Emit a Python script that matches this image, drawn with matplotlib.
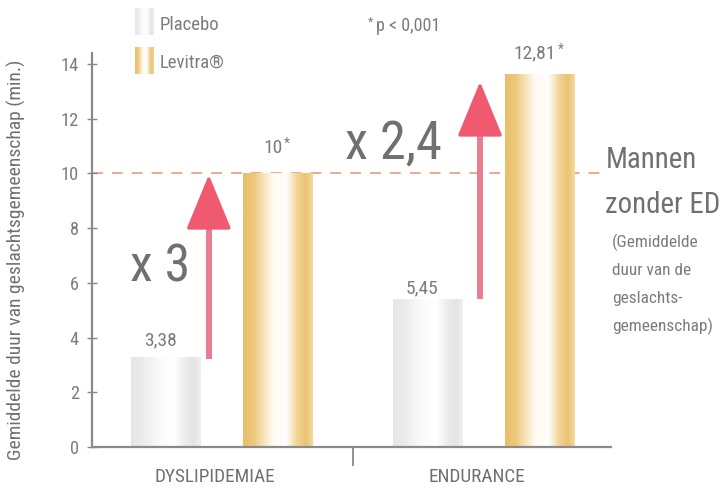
import numpy as np
import matplotlib
matplotlib.use("Agg")
import matplotlib.pyplot as plt
import matplotlib.font_manager as fm
from matplotlib.colors import LinearSegmentedColormap

# ---- choose a narrow font if one is installed ----
_ttf = fm.fontManager.ttflist
_names = {f.name for f in _ttf}
FAM, STRETCH = "Roboto", "normal"
for cand in ["Liberation Sans Narrow", "Roboto Condensed", "Open Sans Condensed",
             "Noto Sans Condensed", "DejaVu Sans Condensed"]:
    if cand in _names:
        FAM = cand
        break
else:
    for base in ["Noto Sans", "Open Sans", "DejaVu Sans", "Roboto"]:
        if any(f.name == base and f.stretch in ("condensed", "semi-condensed", "extra-condensed", 75, 87)
               for f in _ttf):
            FAM, STRETCH = base, "condensed"
            break
plt.rcParams['font.family'] = [FAM, 'DejaVu Sans']
plt.rcParams['font.stretch'] = STRETCH

categories = ["DYSLIPIDEMIAE", "ENDURANCE"]
series = ["Placebo", "Levitra\u00ae"]
placebo = [3.3, 5.4]
levitra = [10.0, 13.65]
placebo_labels = ["3,38", "5,45"]
levitra_labels = ["10", "12,81"]
factors = ["x 3", "x 2,4"]
arrow_from = [3.2, 5.4]
arrow_to = [9.95, 13.35]
yticks = [0, 2, 4, 6, 8, 10, 12, 14]
ref_value = 10

TXT = "#707070"
TXT2 = "#7c7c7c"
gold_cmap = LinearSegmentedColormap.from_list(
    "gold", [(0.0, "#e8bf68"), (0.15, "#edc87c"), (0.42, "#fffaf0"), (0.62, "#ffffff"),
             (0.78, "#f1d393"), (0.9, "#e9c372"), (1.0, "#f3da9f")])
grey_cmap = LinearSegmentedColormap.from_list(
    "grey", [(0.0, "#e6e6e6"), (0.15, "#ebebeb"), (0.42, "#fbfbfb"), (0.62, "#ffffff"),
             (0.8, "#eaeaea"), (0.9, "#e4e4e4"), (1.0, "#efefef")])

fig = plt.figure(figsize=(7.24, 4.93), dpi=100)
ax = fig.add_axes([0.127, 0.0933, 0.717, 0.7992])
ax.set_xlim(-0.496, 1.485)
ax.set_ylim(0, 14.4)
R = fig.canvas.get_renderer()


def size_for(text, target_w, base=12.0):
    tmp = fig.text(0, 0, text, fontsize=base)
    wd = tmp.get_window_extent(R).width
    tmp.remove()
    return base * target_w / wd


x = np.arange(len(categories))
w = 0.267
off = 0.215
grad = np.linspace(0, 1, 200).reshape(1, -1)


def grad_bars(xpos, vals, cmap):
    bars = ax.bar(xpos, vals, width=w, color="none", edgecolor="none", zorder=2)
    for b in bars:
        x0, y0 = b.get_x(), b.get_y()
        im = ax.imshow(grad, extent=[x0, x0 + b.get_width(), y0, y0 + b.get_height()],
                       aspect="auto", cmap=cmap, zorder=2, interpolation="bicubic")
        im.set_clip_path(b)
    return bars


pb = grad_bars(x - off, placebo, grey_cmap)
lb = grad_bars(x + off, levitra, gold_cmap)

val_size = min(size_for("3,38", 35), 14)
lab_off = [0.4, 0.2, 0.75, 0.55]
k = 0
for bars, labs, star in [(pb, placebo_labels, False), (lb, levitra_labels, True)]:
    for b, t in zip(bars, labs):
        tt = ax.text(b.get_x() + b.get_width() / 2 - 0.02, b.get_height() + lab_off[k], t,
                     ha="center", va="baseline", fontsize=val_size, color=TXT2)
        if star:
            ax.annotate("*", xy=(1, 1), xycoords=tt, xytext=(1.0, 1.5), textcoords="offset points",
                        ha="left", va="top", fontsize=val_size * 0.7, color=TXT2)
        k += 1

# reference line
ax.plot([-0.496, 1.455], [ref_value, ref_value], color="#e9a48c", lw=1.3, ls=(0, (6, 5)), zorder=1)

# arrows: head in strong red-pink, shaft a little lighter
arrow_x = [-0.05, 0.985]
px_per_unit = ax.transData.transform((0, 1))[1] - ax.transData.transform((0, 0))[1]
for i in range(2):
    base_y = arrow_to[i] - 48 / px_per_unit
    ax.annotate("", xy=(arrow_x[i], arrow_to[i]), xytext=(arrow_x[i], base_y),
                arrowprops=dict(arrowstyle="-|>,head_length=1.75,head_width=0.72",
                                color="#f05a71", lw=2.5, shrinkA=0, shrinkB=0,
                                mutation_scale=20), zorder=3)
    ax.plot([arrow_x[i], arrow_x[i]], [arrow_from[i], base_y],
            color="#ea7c90", lw=4.3, solid_capstyle="butt", zorder=2.9)

ax.text(-0.351, 6.05, factors[0], color=TXT, ha="left", va="baseline",
        fontsize=min(size_for(factors[0], 60), 40))
ax.text(0.469, 10.55, factors[1], color=TXT, ha="left", va="baseline",
        fontsize=min(size_for(factors[1], 97), 40))

# side annotation
msz = min(size_for("zonder ED", 115), 27)
fig.text(0.836, (493 - 168) / 493, "Mannen", fontsize=msz, color=TXT, ha="left", va="baseline")
fig.text(0.836, (493 - 213) / 493, "zonder ED", fontsize=msz, color=TXT, ha="left", va="baseline")
sub_lines = ["(Gemiddelde", "duur van de", "geslachts-", "gemeenschap)"]
sub_y = [247, 275, 303, 331]
ssz = min(size_for(sub_lines[3], 100), 14)
for line, py in zip(sub_lines, sub_y):
    fig.text(0.845, (493 - py) / 493, line, fontsize=ssz, color=TXT2, ha="left", va="baseline")

psz = min(size_for("* p < 0,001", 92), 13)
fig.text(0.52, (493 - 31) / 493, "p < 0,001", fontsize=psz, color=TXT2, ha="left", va="baseline")
fig.text(0.508, (493 - 22) / 493, "*", fontsize=psz * 0.7, color=TXT2, ha="left", va="center")

# axes styling
tsz = min(size_for("14", 18), 14)
ax.set_yticks(yticks)
ax.set_yticklabels([str(v) for v in yticks], fontsize=tsz, color=TXT2)
ax.set_xticks([0.5])
ax.set_xticklabels([""])
ax.tick_params(axis="x", length=14, width=1.3, color="#888888", direction="out")
ax.tick_params(axis="y", length=7, width=1.0, color="#888888", direction="inout", pad=6)
csz = min(size_for(categories[0], 120), 14)
for i, c in enumerate(categories):
    ax.text(x[i] - 0.028, -0.09, c, transform=ax.get_xaxis_transform(), ha="center",
            va="baseline", fontsize=csz, color=TXT)
for s in ["top", "right"]:
    ax.spines[s].set_visible(False)
for s in ["left", "bottom"]:
    ax.spines[s].set_color("#8a8a8a")
    ax.spines[s].set_linewidth(1.6)
ylab = "Gemiddelde duur van geslachtsgemeenschap (min.)"
ysz = min(size_for(ylab, 420), 14)
fig.text(16 / 724, (493 - 260) / 493, ylab, rotation=90, fontsize=ysz, color=TXT,
         ha="center", va="center")

# legend (manual)
sw_specs = [(0.187, 0.928, grey_cmap, series[0]), (0.187, 0.85, gold_cmap, series[1])]
lsz = min(size_for(series[0], 62), 13.5)
for lx, ly, cm, lab in sw_specs:
    sax = fig.add_axes([lx, ly, 0.025, 0.055])
    sax.imshow(grad, aspect="auto", cmap=cm, extent=[0, 1, 0, 1], interpolation="bicubic")
    sax.axis("off")
    fig.text(lx + 0.034, ly + 0.022, lab, fontsize=lsz, color=TXT2, ha="left", va="center")

fig.savefig("out.png", dpi=100)
